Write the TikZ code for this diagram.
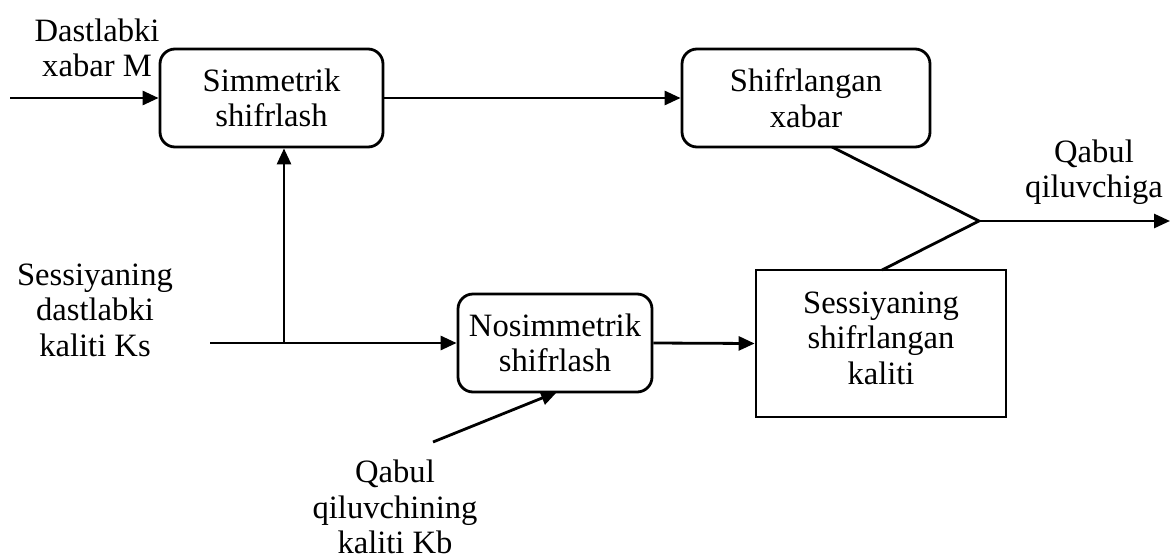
\documentclass[tikz,border=0pt]{standalone}
\usepackage{fontspec}
\setmainfont{Liberation Serif}
\usetikzlibrary{arrows.meta}
\begin{document}
\begin{tikzpicture}[x=0.5pt,y=-0.5pt,
  every node/.style={font=\fontsize{16.3pt}{17.75pt}\selectfont, align=center, inner sep=0pt},
  rbox/.style={draw, line width=1.4pt, rounded corners=7.5pt},
  sbox/.style={draw, line width=1.4pt},
  conn/.style={line width=1.4pt},
  arr/.style={line width=1.4pt, -{Triangle[length=8pt,width=7pt]}}]
\useasboundingbox (0,0) rectangle (1170,557);
% boxes
\node[rbox, minimum width=111.5pt, minimum height=49pt] (b1) at (271.5,98) {Simmetrik\\shifrlash};
\node[rbox, minimum width=124pt, minimum height=49pt] (b2) at (806,98) {Shifrlangan\\xabar};
\node[rbox, minimum width=97pt, minimum height=49pt] (b3) at (555,343) {Nosimmetrik\\shifrlash};
\node[sbox, minimum width=125pt, minimum height=73.5pt] (b4) at (881,343.5) {};
\node (b4t) at (881,338) {Sessiyaning\\shifrlangan\\kaliti};
% labels
\node (lm) at (97,48) {Dastlabki\\xabar M};
\node (lks) at (95,310) {Sessiyaning\\dastlabki\\kaliti Ks};
\node (lkb) at (395,507) {Qabul\\qiluvchining\\kaliti Kb};
\node (lq) at (1094,172) {Qabul\\qiluvchiga};
% coordinates
\coordinate (min) at (10,98);
\coordinate (ksin) at (210,343);
\coordinate (split) at (284,343);
\coordinate (kbin) at (433,442);
\coordinate (b3in) at (557,392);
\coordinate (b2out) at (832,147);
\coordinate (b4out) at (882,270);
\coordinate (j) at (979,221);
\coordinate (out) at (1170,221);
% connectors
\draw[arr] (min) -- (b1.west);
\draw[arr] (b1.east) -- (b2.west);
\draw[conn] (ksin) -- (split);
\draw[arr] (split) -- (b3.west);
\draw[arr] (split) -- (split |- b1.south);
\draw[arr] (kbin) -- (b3in);
\draw[arr] (b3.east) -- (b4.west);
\draw[conn] (b2out) -- (j) -- (b4out);
\draw[arr] (j) -- (out);
\end{tikzpicture}
\end{document}
